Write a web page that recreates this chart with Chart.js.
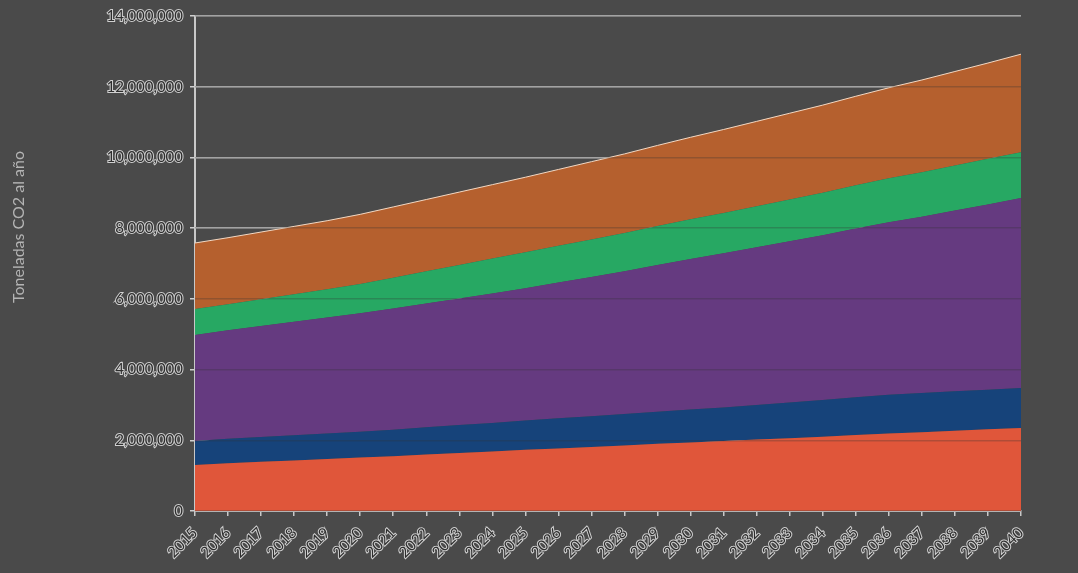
<!DOCTYPE html>
<html>
<head>
<meta charset="utf-8">
<title>Toneladas CO2 al año</title>
<script src="https://cdn.jsdelivr.net/npm/chart.js@4"></script>
<style>
  html, body { margin: 0; padding: 0; background: #4a4a4a; }
  #wrap { position: relative; width: 1078px; height: 573px; }
</style>
</head>
<body>
<div id="wrap"><canvas id="co2Chart"></canvas></div>
<script>
// Years on the x axis
const years = ['2015', '2016', '2017', '2018', '2019', '2020', '2021', '2022', '2023', '2024', '2025', '2026', '2027',
  '2028', '2029', '2030', '2031', '2032', '2033', '2034', '2035', '2036', '2037', '2038', '2039', '2040'];

// Emissions per layer, millions of tonnes CO2 per year (stacked bottom to top)
const layer1 = [1.30, 1.35, 1.39, 1.43, 1.47, 1.51, 1.55, 1.60, 1.64, 1.68, 1.73, 1.77, 1.81,
  1.85, 1.90, 1.94, 1.98, 2.02, 2.06, 2.10, 2.15, 2.19, 2.23, 2.27, 2.31, 2.35];
const layer2 = [0.68, 0.69, 0.70, 0.71, 0.72, 0.73, 0.75, 0.77, 0.79, 0.81, 0.83, 0.85, 0.87,
  0.89, 0.91, 0.93, 0.95, 0.98, 1.01, 1.04, 1.07, 1.10, 1.11, 1.12, 1.12, 1.13];
const layer3 = [3.00, 3.07, 3.14, 3.21, 3.28, 3.35, 3.43, 3.50, 3.58, 3.66, 3.74, 3.84, 3.94,
  4.04, 4.15, 4.26, 4.36, 4.46, 4.56, 4.66, 4.77, 4.88, 4.98, 5.11, 5.24, 5.37];
const layer4 = [0.73, 0.74, 0.76, 0.78, 0.80, 0.83, 0.87, 0.91, 0.95, 0.99, 1.02, 1.04, 1.06,
  1.08, 1.10, 1.12, 1.14, 1.16, 1.18, 1.20, 1.22, 1.24, 1.26, 1.27, 1.29, 1.30];
const layer5 = [1.87, 1.88, 1.90, 1.92, 1.94, 1.97, 2.00, 2.03, 2.06, 2.09, 2.12, 2.16, 2.20,
  2.24, 2.28, 2.32, 2.36, 2.40, 2.44, 2.48, 2.52, 2.56, 2.61, 2.66, 2.71, 2.77];

// y axis in millions, ticks every 2M
const yMax = 14;
const yStep = 2;
const yTitle = 'Toneladas CO2 al año';

const layerColors = ['#e0563a', '#16437a', '#653a80', '#27a863', '#b5602e'];

function area(data, i) {
  return {
    data: data,
    backgroundColor: layerColors[i],
    borderColor: i === 4 ? '#f3d9c4' : layerColors[i],
    borderWidth: i === 4 ? 1 : 0,
    fill: i === 0 ? 'origin' : '-1',
    pointRadius: 0,
    tension: 0
  };
}

// rotated axis title, drawn a bit above the middle of the axis
const axisTitle = {
  id: 'axisTitle',
  afterDraw(chart) {
    const ctx = chart.ctx;
    ctx.save();
    ctx.translate(19, 227);
    ctx.rotate(-Math.PI / 2);
    ctx.font = '16px Lato';
    ctx.fillStyle = '#b4b4b4';
    ctx.textAlign = 'center';
    ctx.textBaseline = 'middle';
    ctx.fillText(yTitle, 0, 0);
    ctx.restore();
  }
};

const ctx = document.getElementById('co2Chart').getContext('2d');
new Chart(ctx, {
  type: 'line',
  data: {
    labels: years,
    datasets: [area(layer1, 0), area(layer2, 1), area(layer3, 2), area(layer4, 3), area(layer5, 4)]
  },
  plugins: [axisTitle],
  options: {
    responsive: true,
    maintainAspectRatio: false,
    animation: false,
    layout: { padding: { top: 16, right: 57, left: 0, bottom: 0 } },
    plugins: {
      legend: { display: false },
      tooltip: { enabled: false }
    },
    scales: {
      x: {
        offset: false,
        grid: { drawOnChartArea: false, color: '#c8c8c8', lineWidth: 1.5, tickLength: 5 },
        border: { color: '#c8c8c8', width: 2 },
        ticks: {
          autoSkip: false,
          minRotation: 45,
          maxRotation: 45,
          padding: 8,
          color: '#2e2e2e',
          textStrokeColor: '#d0d0d0',
          textStrokeWidth: 2,
          font: { family: 'Lato', size: 15 }
        },
        afterFit: scale => { scale.height = 62; }
      },
      y: {
        stacked: true,
        min: 0,
        max: yMax,
        grid: { color: '#cfcfcf', lineWidth: 1.5, tickLength: 5 },
        border: { color: '#c8c8c8', width: 2 },
        ticks: {
          stepSize: yStep,
          padding: 7,
          color: '#2e2e2e',
          textStrokeColor: '#d0d0d0',
          textStrokeWidth: 2,
          font: { family: 'Lato', size: 15 },
          callback: v => (v * 1000000).toLocaleString('en-US')
        },
        afterFit: scale => { scale.width = 195; }
      },
      // same scale again, only to lay faint grid lines over the filled areas
      yOver: {
        position: 'right',
        min: 0,
        max: yMax,
        grid: { z: 1, color: 'rgba(50,50,50,0.28)', lineWidth: 1.5, drawTicks: false },
        border: { display: false },
        ticks: { display: false, stepSize: yStep },
        afterFit: scale => { scale.width = 0; }
      }
    }
  }
});
</script>
</body>
</html>
